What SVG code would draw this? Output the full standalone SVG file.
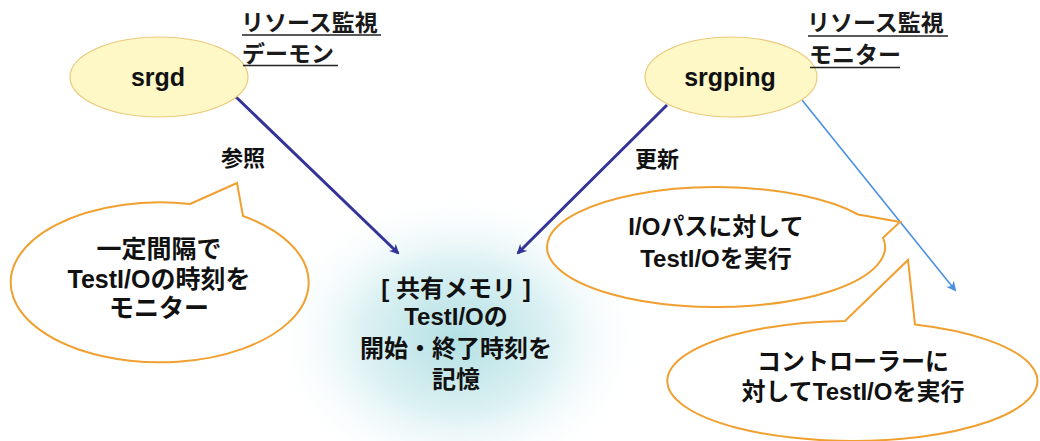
<svg xmlns="http://www.w3.org/2000/svg" width="1040" height="441" viewBox="0 0 1040 441">
<style>
.t{font-family:"Liberation Sans","Noto Sans CJK JP",sans-serif;font-weight:bold;fill:#111;text-anchor:middle}
.lb{font-family:"Noto Sans CJK JP",sans-serif;font-size:23px;font-weight:bold;fill:#1a1a1a}
.ul{stroke:#222;stroke-width:1.5}
.node{fill:#fdf8c6;stroke:#ecc97c;stroke-width:1.2}
.call{fill:#fff;stroke:#f0a030;stroke-width:2}
.dk{stroke:#333399;stroke-width:3;fill:none}
.lt{stroke:#4a90e2;stroke-width:1.6;fill:none}
</style>
<defs>
<radialGradient id="glow" cx="0.5" cy="0.5" r="0.5">
<stop offset="0" stop-color="#b3e0e4"/>
<stop offset="0.5" stop-color="#dcf1f3"/>
<stop offset="1" stop-color="#ffffff" stop-opacity="0"/>
</radialGradient>
<marker id="ad" markerWidth="10" markerHeight="10" refX="8" refY="5" orient="auto" markerUnits="userSpaceOnUse">
<path d="M0,0 L10,5 L0,10 L3,5 Z" fill="#333399"/>
</marker>
<marker id="al" markerWidth="10" markerHeight="10" refX="8" refY="5" orient="auto" markerUnits="userSpaceOnUse">
<path d="M0,0 L10,5 L0,10 L3,5 Z" fill="#4a90e2"/>
</marker>
</defs>
<rect width="1040" height="441" fill="#fff"/>
<ellipse cx="458" cy="338" rx="190" ry="150" fill="url(#glow)"/>

<g id="connectors">
<line class="dk" x1="236" y1="97" x2="398" y2="253" marker-end="url(#ad)"/>
<line class="dk" x1="667" y1="105" x2="518" y2="253" marker-end="url(#ad)"/>
<line class="lt" x1="802" y1="100" x2="955" y2="290" marker-end="url(#al)"/>
<text class="t" x="243" y="166" font-size="22">参照</text>
<text class="t" x="657" y="167" font-size="22">更新</text>
</g>

<g id="srgd">
<ellipse class="node" cx="159" cy="77" rx="89" ry="40"/>
<text class="t" x="158" y="86" font-size="25">srgd</text>
</g>
<g id="srgd-label">
<text class="lb" x="241" y="31">リソース監視</text>
<line class="ul" x1="242" y1="35" x2="381" y2="35"/>
<text class="lb" x="242" y="62">デーモン</text>
<line class="ul" x1="243" y1="65.5" x2="338" y2="65.5"/>
</g>

<g id="srgping">
<ellipse class="node" cx="731" cy="77" rx="86" ry="40"/>
<text class="t" x="730" y="86" font-size="25">srgping</text>
</g>
<g id="srgping-label">
<text class="lb" x="807" y="31">リソース監視</text>
<line class="ul" x1="808" y1="36" x2="948" y2="36"/>
<text class="lb" x="809" y="63">モニター</text>
<line class="ul" x1="810" y1="67.5" x2="900" y2="67.5"/>
</g>

<g id="callout-left">
<path class="call" d="M190 204 L237 183 L243 216 A149 80 0 1 1 190 204 Z"/>
<text class="t" x="159" y="258" font-size="25">一定間隔で</text>
<text class="t" x="159" y="288" font-size="25">TestI/Oの時刻を</text>
<text class="t" x="159" y="317" font-size="25">モニター</text>
</g>

<g id="shared-memory">
<text class="t" x="456" y="297" font-size="24">[ 共有メモリ ]</text>
<text class="t" x="456" y="325" font-size="24">TestI/Oの</text>
<text class="t" x="456" y="357" font-size="24">開始・終了時刻を</text>
<text class="t" x="456" y="388" font-size="24">記憶</text>
</g>

<g id="callout-io">
<path class="call" d="M858 214.5 L900 222 L883 237.7 A169 60 0 1 1 858 214.5 Z"/>
<text class="t" x="716" y="235" font-size="24">I/Oパスに対して</text>
<text class="t" x="716" y="267" font-size="24">TestI/Oを実行</text>
</g>

<g id="callout-ctrl">
<path class="call" d="M845 321 L908 260 L915 324.5 A185 60 0 1 1 845 321 Z"/>
<text class="t" x="853" y="370" font-size="24">コントローラーに</text>
<text class="t" x="853" y="400" font-size="24">対してTestI/Oを実行</text>
</g>
</svg>
